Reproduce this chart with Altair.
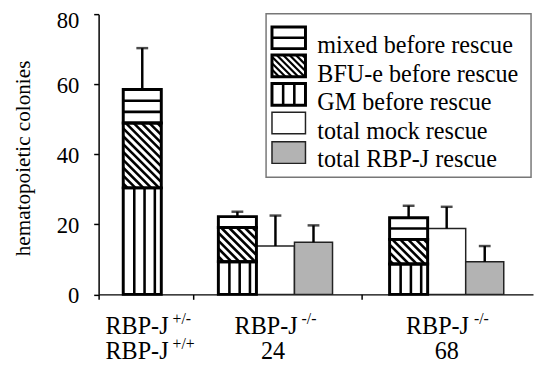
import altair as alt
import pandas as pd
import numpy as np

# ---------------- data ----------------
gm_before = [30.4, 9.3, 8.7]
bfu_before = [18.5, 9.8, 7.0]
mixed_before = [9.6, 3.1, 6.2]
before_err = [11.8, 1.4, 3.4]
mock_total = [13.8, 18.8]
mock_err = [8.7, 6.2]
rbp_total = [14.9, 9.3]
rbp_err = [4.8, 4.5]
legend_labels = ["mixed before rescue", "BFU-e before rescue", "GM before rescue",
                 "total mock rescue", "total RBP-J rescue"]
y_title = "hematopoietic colonies"
y_ticks = [0, 20, 40, 60, 80]
label_main = [["RBP-J", "RBP-J"], ["RBP-J", "24"], ["RBP-J", "68"]]
label_sup = [["+/-", "+/+"], ["-/-", ""], ["-/-", ""]]

# ---------------- layout ----------------
W, H = 441, 284.5
XMIN, SX = -0.647, 38.63
XMAX = XMIN + W / SX
SY = H / 80.0
stack_left = [0.0, 2.5, 7.0]
mock_left = [3.5, 8.0]
rbp_left = [4.5, 9.0]
BAR = 1.0
group_bounds = [1.838, 6.265]
FONT = "Liberation Serif"
FS = 24.5
GRAY = "#b3b3b3"

xs = alt.Scale(domain=[XMIN, XMAX], nice=False, zero=False)
ys = alt.Scale(domain=[0, 80], nice=False, zero=False)

XAXIS = alt.Axis(values=[XMIN] + group_bounds, labels=False, title=None,
                 grid=False, tickSize=5, tickColor="black", tickWidth=1.5,
                 domainColor="black", domainWidth=1.5)
YAXIS = alt.Axis(values=y_ticks, title=y_title, grid=False, tickSize=5,
                 tickColor="black", tickWidth=1.5, domainColor="black",
                 domainWidth=1.5, labelFont=FONT, labelFontSize=23,
                 labelColor="black", labelPadding=15,
                 labelOffset={"condition": {"test": "datum.value >= 80", "value": 6.5}, "value": 1.5},
                 titleFont=FONT, titleFontSize=21.5, titleFontWeight="normal",
                 titleColor="black", titleX=-76, titleY=146,
                 titleAngle=-90, titleBaseline="middle")


def X(f):
    return alt.X(f, scale=xs, axis=XAXIS)


def Y(f):
    return alt.Y(f, scale=ys, axis=YAXIS)


def to_px_x(u):
    return (u - XMIN) * SX


def to_px_y(v):
    return H - v * SY


def from_px_x(p):
    return p / SX + XMIN


def from_px_y(p):
    return (H - p) / SY


def hatch_segments(X0, X1, Y0, Y1, step=8.0):
    segs = []
    c = Y0 - X1 + step / 2
    while c < Y1 - X0:
        xa = max(X0, Y0 - c)
        xb = min(X1, Y1 - c)
        if xb > xa + 0.5:
            segs.append((xa, xa + c, xb, xb + c))
        c += step
    return segs


stack_rows, hatch_rows, gm_rows, mix_rows, err_rows = [], [], [], [], []
for i in range(3):
    x0, x1 = stack_left[i], stack_left[i] + BAR
    b1 = gm_before[i]
    b2 = b1 + bfu_before[i]
    b3 = b2 + mixed_before[i]
    stack_rows += [
        dict(x0=x0, x1=x1, y0=0, y1=b1, seg="GM"),
        dict(x0=x0, x1=x1, y0=b1, y1=b2, seg="BFU"),
        dict(x0=x0, x1=x1, y0=b2, y1=b3, seg="mixed"),
    ]
    for (xa, ya, xb, yb) in hatch_segments(to_px_x(x0), to_px_x(x1), to_px_y(b2), to_px_y(b1)):
        hatch_rows.append(dict(hx0=from_px_x(xa), hy0=from_px_y(ya), hx1=from_px_x(xb), hy1=from_px_y(yb)))
    for f in (0.29, 0.56, 0.83):
        gm_rows.append(dict(lx=x0 + f * BAR, ly0=0, ly1=b1))
    hpx = mixed_before[i] * SY
    n = max(1, int(round(hpx / 11.0)))
    for k in range(1, n):
        mix_rows.append(dict(mx0=x0, mx1=x1, my=b2 + k * mixed_before[i] / n))
    err_rows.append(dict(xc=x0 + BAR / 2, top=b3, etop=b3 + before_err[i]))

res_rows = []
for j in range(2):
    res_rows.append(dict(x0=mock_left[j], x1=mock_left[j] + BAR, y0=0, y1=mock_total[j], kind="mock"))
    res_rows.append(dict(x0=rbp_left[j], x1=rbp_left[j] + BAR, y0=0, y1=rbp_total[j], kind="rbp"))
    err_rows.append(dict(xc=mock_left[j] + BAR / 2, top=mock_total[j], etop=mock_total[j] + mock_err[j]))
    err_rows.append(dict(xc=rbp_left[j] + BAR / 2, top=rbp_total[j], etop=rbp_total[j] + rbp_err[j]))

stack_df = pd.DataFrame(stack_rows)
res_df = pd.DataFrame(res_rows)
hatch_df = pd.DataFrame(hatch_rows)
gm_df = pd.DataFrame(gm_rows)
mix_df = pd.DataFrame(mix_rows)
err_df = pd.DataFrame(err_rows)

layers = []

layers.append(alt.Chart(stack_df).mark_rect(fill="white", strokeWidth=0).encode(
    x=X("x0:Q"), x2="x1:Q", y=Y("y0:Q"), y2="y1:Q"))

layers.append(alt.Chart(res_df).mark_rect(stroke="#222222", strokeWidth=1.5).encode(
    x=X("x0:Q"), x2="x1:Q", y=Y("y0:Q"), y2="y1:Q",
    fill=alt.Fill("kind:N", scale=alt.Scale(domain=["mock", "rbp"], range=["white", GRAY]), legend=None),
))

layers.append(alt.Chart(hatch_df).mark_rule(color="black", strokeWidth=2.6).encode(
    x=X("hx0:Q"), x2="hx1:Q", y=Y("hy0:Q"), y2="hy1:Q"))
layers.append(alt.Chart(gm_df).mark_rule(color="black", strokeWidth=2.6).encode(
    x=X("lx:Q"), y=Y("ly0:Q"), y2="ly1:Q"))
layers.append(alt.Chart(mix_df).mark_rule(color="black", strokeWidth=2.6).encode(
    x=X("mx0:Q"), x2="mx1:Q", y=Y("my:Q")))
layers.append(alt.Chart(stack_df).mark_rect(fill="transparent", stroke="black", strokeWidth=3).encode(
    x=X("x0:Q"), x2="x1:Q", y=Y("y0:Q"), y2="y1:Q"))
layers.append(alt.Chart(err_df).mark_rule(color="black", strokeWidth=2.5).encode(
    x=X("xc:Q"), y=Y("top:Q"), y2="etop:Q"))
layers.append(alt.Chart(err_df).mark_tick(color="black", orient="horizontal", size=12, thickness=2.5).encode(
    x=X("xc:Q"), y=Y("etop:Q")))

# ---------------- decorations in pixel space ----------------
one = pd.DataFrame({"a": [0]})


def prule(x1, y1, x2, y2, w=2.5, color="black"):
    return alt.Chart(one).mark_rule(color=color, strokeWidth=w).encode(
        x=alt.value(x1), y=alt.value(y1), x2=alt.value(x2), y2=alt.value(y2))


def prect(x1, y1, x2, y2, fill, stroke, w):
    return alt.Chart(one).mark_rect(fill=fill, stroke=stroke, strokeWidth=w).encode(
        x=alt.value(x1), x2=alt.value(x2), y=alt.value(y1), y2=alt.value(y2))


def ptext(x, y, text, size, align="left", baseline="alphabetic"):
    return alt.Chart(one).mark_text(text=text, font=FONT, fontSize=size, align=align,
                                    baseline=baseline, color="black").encode(
        x=alt.value(x), y=alt.value(y))


layers.append(prect(170, -0.5, 439, 165.5, "white", "#777777", 1.5))
sw_x0, sw_x1 = 176, 210
sw_tops = [13, 41.5, 70.5, 99.5, 129.5]
SWH = 22
txt_base = [39.5, 68.5, 97.5, 126.5, 155.5]
for i, lab in enumerate(legend_labels):
    t = sw_tops[i]
    b = t + SWH
    if i == 0:
        layers.append(prect(sw_x0, t, sw_x1, b, "white", "black", 3))
        layers.append(prule(sw_x0, (t + b) / 2, sw_x1, (t + b) / 2, 2.6))
    elif i == 1:
        layers.append(prect(sw_x0, t, sw_x1, b, "white", "black", 0))
        for (xa, ya, xb, yb) in hatch_segments(sw_x0, sw_x1, t, b, 6.5):
            layers.append(prule(xa, ya, xb, yb, 2.2))
        layers.append(prect(sw_x0, t, sw_x1, b, "transparent", "black", 3))
    elif i == 2:
        layers.append(prect(sw_x0, t, sw_x1, b, "white", "black", 3))
        for f in (1 / 3, 2 / 3):
            xx = sw_x0 + f * (sw_x1 - sw_x0)
            layers.append(prule(xx, t, xx, b, 2.6))
    elif i == 3:
        layers.append(prect(sw_x0, t, sw_x1, b, "white", "#222222", 1.5))
    else:
        layers.append(prect(sw_x0, t, sw_x1, b, GRAY, "#222222", 1.5))
    layers.append(ptext(222, txt_base[i], lab, FS))

main_left = [7, 138, 312]
sup_left = [75, 206, 381]
num_center = [None, 177, 353.5]
line1_y, line2_y = 325, 350
sup_dy = -10
SUPFS = 16
for g in range(3):
    layers.append(ptext(main_left[g], line1_y, label_main[g][0], FS))
    layers.append(ptext(sup_left[g], line1_y + sup_dy, label_sup[g][0], SUPFS))
    if g == 0:
        layers.append(ptext(main_left[g], line2_y, label_main[g][1], FS))
        layers.append(ptext(sup_left[g], line2_y + sup_dy, label_sup[g][1], SUPFS))
    else:
        layers.append(ptext(num_center[g], line2_y, label_main[g][1], FS, align="center"))

chart = alt.layer(*layers).properties(
    width=W, height=H,
    autosize=alt.AutoSizeParams(type="none"),
    padding={"left": 92, "top": 3.5, "right": 1, "bottom": 72},
).configure_view(stroke=None)

chart.save("out.html", embed_options={"renderer": "svg", "actions": False})
